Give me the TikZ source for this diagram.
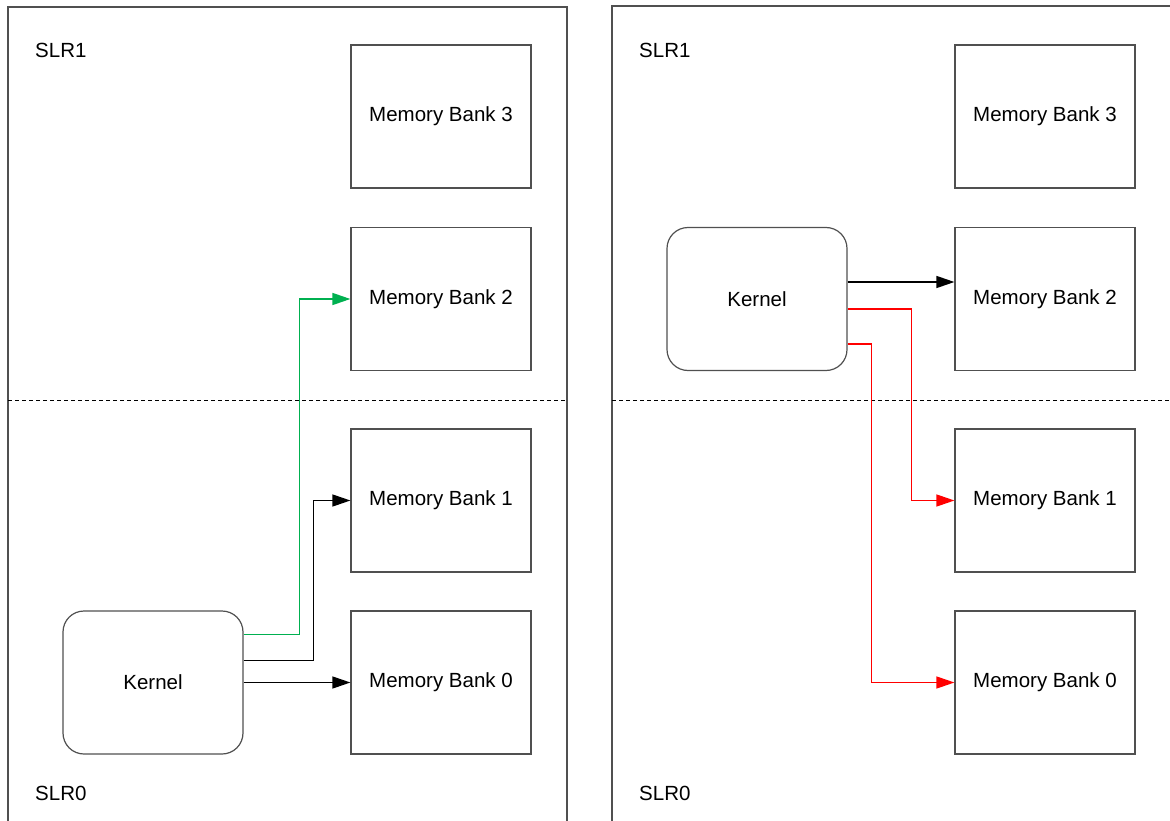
\documentclass[tikz,border=0pt]{standalone}
\usepackage{fontspec}
\setmainfont{Liberation Sans}
\usetikzlibrary{calc,arrows.meta}

\definecolor{linegray}{RGB}{80,80,80}
\definecolor{linkgreen}{RGB}{0,176,80}
\definecolor{linkred}{RGB}{255,0,0}

\tikzset{
  bank/.style={draw=linegray, line width=1.2pt, minimum width=180pt, minimum height=143pt, font=\fontsize{20.5}{24}\selectfont},
  kernel/.style={bank, rounded corners=21pt},
  slr/.style={anchor=west, inner sep=0pt, font=\fontsize{20.5}{24}\selectfont},
  link/.style={line width=1.4pt, -{Triangle[length=18pt,width=12pt]}}
}

\begin{document}
\begin{tikzpicture}[x=1pt,y=-1pt]
\useasboundingbox (0,0) rectangle (1170,821);

%PANELS
\draw[linegray, line width=1.2pt] (8,821) |- (567,7) -- (567,821);
\draw[linegray, line width=1.2pt] (612,821) |- (1180,6);

\draw[black, line width=1pt, dash pattern=on 4pt off 3pt] (8,400) -- (567,400);
\draw[black, line width=1pt, dash pattern=on 4pt off 3pt] (612,400) -- (1170,400);

\node[slr] (slr1L) at (35,50) {SLR1};
\node[slr] (slr0L) at (35,793) {SLR0};
\node[slr] (slr1R) at (639,50) {SLR1};
\node[slr] (slr0R) at (639,793) {SLR0};

%%%%%%%%%%%%%%%%%%%%%%%%%%%%
%LEFT: kernel in SLR0
\node[bank] (b3L) at (441,116.5) {Memory Bank 3};
\node[bank] (b2L) at (441,299) {Memory Bank 2};
\node[bank] (b1L) at (441,500.5) {Memory Bank 1};
\node[bank] (b0L) at (441,682.5) {Memory Bank 0};
\node[kernel] (kL) at (153,682.5) {Kernel};

\draw[link, black] (kL.east) -- (b0L.west);
\draw[link, black] ($(kL.east)+(0,-22)$) -- ++(70,0) |- (b1L.west);
\draw[link, linkgreen] ($(kL.east)+(0,-48)$) -- ++(56,0) |- (b2L.west);

%%%%%%%%%%%%%%%%%%%%%%%%%%%%
%RIGHT: kernel in SLR1
\node[bank] (b3R) at (1045,116.5) {Memory Bank 3};
\node[bank] (b2R) at (1045,299) {Memory Bank 2};
\node[bank] (b1R) at (1045,500.5) {Memory Bank 1};
\node[bank] (b0R) at (1045,682.5) {Memory Bank 0};
\node[kernel] (kR) at (757,299) {Kernel};

\draw[link, black] ($(kR.east)+(0,-17)$) -- ($(b2R.west)+(0,-17)$);
\draw[link, linkred] ($(kR.east)+(0,10)$) -- ++(64,0) |- (b1R.west);
\draw[link, linkred] ($(kR.east)+(0,45)$) -- ++(24,0) |- (b0R.west);
\end{tikzpicture}
\end{document}
